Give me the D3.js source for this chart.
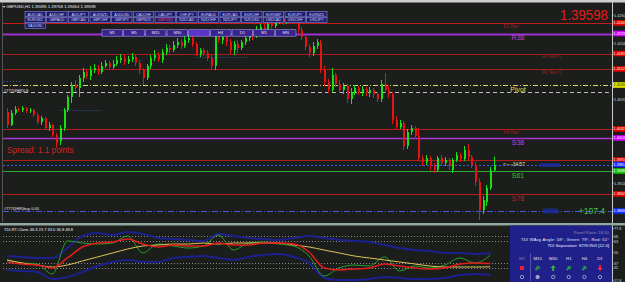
<!DOCTYPE html>
<html>
<head>
<meta charset="utf-8">
<script src="https://cdn.jsdelivr.net/npm/d3@7"></script>
<style>
html, body { margin: 0; padding: 0; background: #1c1e1c; overflow: hidden; }
svg { display: block; font-family: "Liberation Sans", Arial, sans-serif; }
</style>
</head>
<body>
<div id="chart"></div>
<script>
//Chart data: H1 candles (open, high, low, close)
const opens = [1.4066,1.4040,1.4064,1.4072,1.4070,1.4074,1.4068,1.4070,1.4060,1.4046,
  1.4054,1.4034,1.4040,1.4020,1.4008,1.4034,1.4070,1.4096,1.4120,1.4114,
  1.4134,1.4146,1.4138,1.4150,1.4154,1.4146,1.4158,1.4164,1.4156,1.4162,
  1.4170,1.4174,1.4166,1.4172,1.4176,1.4164,1.4150,1.4134,1.4158,1.4174,
  1.4180,1.4170,1.4186,1.4194,1.4190,1.4200,1.4206,1.4198,1.4210,1.4214,
  1.4202,1.4182,1.4190,1.4184,1.4174,1.4158,1.4218,1.4210,1.4216,1.4206,
  1.4190,1.4202,1.4194,1.4206,1.4214,1.4224,1.4218,1.4230,1.4236,1.4232,
  1.4242,1.4238,1.4248,1.4252,1.4246,1.4256,1.4260,1.4246,1.4230,1.4216,
  1.4196,1.4184,1.4198,1.4204,1.4150,1.4126,1.4110,1.4140,1.4122,1.4110,
  1.4118,1.4092,1.4106,1.4114,1.4106,1.4112,1.4104,1.4110,1.4102,1.4092,
  1.4122,1.4110,1.4102,1.4050,1.4036,1.4044,1.3998,1.4026,1.4034,1.4018,
  1.3974,1.3966,1.3974,1.3958,1.3950,1.3974,1.3964,1.3970,1.3950,1.3970,
  1.3980,1.3972,1.3990,1.3976,1.3960,1.3926,1.3870,1.3886,1.3914,1.39495];
const highs = [1.4074,1.4070,1.4078,1.4076,1.4078,1.4076,1.4074,1.4072,1.4064,1.4058,
  1.4056,1.4046,1.4042,1.4024,1.4040,1.4074,1.4100,1.4126,1.4130,1.4140,
  1.4154,1.4150,1.4158,1.4162,1.4160,1.4166,1.4170,1.4168,1.4170,1.4178,
  1.4182,1.4180,1.4178,1.4184,1.4180,1.4170,1.4154,1.4162,1.4180,1.4190,
  1.4186,1.4192,1.4202,1.4200,1.4208,1.4214,1.4212,1.4218,1.4222,1.4218,
  1.4206,1.4194,1.4194,1.4190,1.4180,1.4224,1.4226,1.4224,1.4220,1.4212,
  1.4208,1.4210,1.4210,1.4220,1.4232,1.4230,1.4238,1.4242,1.4244,1.4250,
  1.4248,1.4254,1.4260,1.4258,1.4264,1.4268,1.4266,1.4254,1.4236,1.4222,
  1.4202,1.4206,1.4212,1.4210,1.4158,1.4132,1.4154,1.4144,1.4130,1.4124,
  1.4122,1.4114,1.4120,1.4118,1.4118,1.4116,1.4116,1.4114,1.4106,1.4130,
  1.4144,1.4118,1.4106,1.4058,1.4050,1.4048,1.4032,1.4040,1.4038,1.4034,
  1.3980,1.3980,1.3978,1.3964,1.3978,1.3980,1.3976,1.3974,1.3974,1.3986,
  1.3984,1.3998,1.4002,1.3980,1.3966,1.3934,1.3898,1.3920,1.3956,1.39768];
const lows = [1.4034,1.4038,1.4060,1.4066,1.4066,1.4064,1.4064,1.4056,1.4042,1.4040,
  1.4030,1.4028,1.4016,1.3994,1.4000,1.4028,1.4066,1.4084,1.4106,1.4096,
  1.4126,1.4132,1.4130,1.4144,1.4140,1.4142,1.4154,1.4150,1.4152,1.4158,
  1.4164,1.4160,1.4162,1.4166,1.4158,1.4142,1.4120,1.4130,1.4152,1.4168,
  1.4166,1.4164,1.4180,1.4184,1.4186,1.4194,1.4192,1.4194,1.4204,1.4196,
  1.4178,1.4176,1.4178,1.4168,1.4150,1.4150,1.4204,1.4202,1.4198,1.4182,
  1.4180,1.4184,1.4190,1.4200,1.4208,1.4210,1.4214,1.4224,1.4226,1.4228,
  1.4232,1.4234,1.4242,1.4240,1.4242,1.4250,1.4242,1.4224,1.4210,1.4190,
  1.4176,1.4178,1.4192,1.4144,1.4118,1.4104,1.4106,1.4116,1.4104,1.4102,
  1.4084,1.4082,1.4100,1.4100,1.4098,1.4098,1.4096,1.4094,1.4086,1.4086,
  1.4104,1.4094,1.4042,1.4030,1.4032,1.3990,1.3992,1.4020,1.4012,1.3968,
  1.3958,1.3960,1.3950,1.3944,1.3946,1.3958,1.3958,1.3950,1.3944,1.3966,
  1.3966,1.3968,1.3970,1.3954,1.3918,1.3850,1.3862,1.3878,1.3910,1.39464];
const closes = [1.4040,1.4064,1.4072,1.4070,1.4074,1.4068,1.4070,1.4060,1.4046,1.4054,
  1.4034,1.4040,1.4020,1.4004,1.4034,1.4070,1.4096,1.4120,1.4114,1.4134,
  1.4146,1.4138,1.4150,1.4154,1.4146,1.4158,1.4164,1.4156,1.4162,1.4170,
  1.4174,1.4166,1.4172,1.4176,1.4164,1.4150,1.4134,1.4158,1.4174,1.4180,
  1.4170,1.4186,1.4194,1.4190,1.4200,1.4206,1.4198,1.4210,1.4214,1.4202,
  1.4182,1.4190,1.4184,1.4174,1.4158,1.4218,1.4210,1.4216,1.4206,1.4190,
  1.4202,1.4194,1.4206,1.4214,1.4224,1.4218,1.4230,1.4236,1.4232,1.4242,
  1.4238,1.4248,1.4252,1.4246,1.4256,1.4260,1.4246,1.4230,1.4216,1.4196,
  1.4184,1.4198,1.4206,1.4150,1.4126,1.4110,1.4140,1.4122,1.4110,1.4118,
  1.4092,1.4106,1.4114,1.4106,1.4112,1.4104,1.4110,1.4102,1.4092,1.4122,
  1.4110,1.4102,1.4050,1.4036,1.4044,1.3998,1.4026,1.4034,1.4018,1.3974,
  1.3966,1.3974,1.3958,1.3950,1.3974,1.3964,1.3970,1.3958,1.3970,1.3980,
  1.3972,1.3990,1.3976,1.3960,1.3926,1.3870,1.3890,1.3914,1.3950,1.39598];

//Horizontal levels drawn on the price chart
const levelNames = ["D1 Res", "R38", "R3 Res C", "R2 Res C", "Pivot", "#777(4HR)LS", "H4 Res", "S38", "S50", "34/57", "S61", "S78", "#777(4HR)buy 0.00"];
const levelPrices = [1.4244, 1.4223, 1.4183, 1.4152, 1.4120, 1.4105, 1.4032, 1.4014, 1.3970, 1.3961, 1.3948, 1.3902, 1.3868];

//Short dotted session levels (price, first bar, last bar)
const segPrices = [1.4128, 1.4070, 1.4176];
const segStart = [0, 15, 51];
const segEnd = [3, 24, 63];

//Price axis ticks
const priceTicks = [1.4260, 1.4204, 1.4148, 1.4092, 1.4036, 1.3980, 1.3924, 1.3868];

//Symbol buttons and timeframe buttons
const symbolRow1 = ["AUDCAD","AUDCHF","AUDJPY","AUDNZD","AUDUSD","CADCHF","CADJPY","CHFJPY","EURAUD","EURCAD","EURCHF","EURGBP","EURJPY","EURNZD"];
const symbolRow2 = ["EURUSD","GBPAUD","GBPCAD","GBPCHF","GBPJPY","GBPNZD","GBPUSD","NZDCAD","NZDCHF","NZDJPY","NZDUSD","USDCAD","USDCHF","USDJPY"];
const symbolRow3 = ["XAUUSD"];
const timeframes = ["M1","M5","M15","M30","H1","H4","D1","W1","MN"];

//TDI subwindow, sampled every 4 bars
const subBars = [0,4,8,12,16,20,24,28,32,36,40,44,48,52,56,60,64,68,72,76,80,84,88,92,96,100,104,108,112,116,120,124,128];
const upperBand = [45.5,44.4,43.2,43.2,54.7,68.6,72.0,69.7,73.2,70.9,66.3,65.1,64.0,62.8,70.9,68.6,66.3,65.1,64.0,66.3,68.6,66.3,64.0,62.8,61.7,58.2,54.7,52.4,51.3,49.0,49.0,47.9,48.8];
const lowerBand = [29.4,28.2,27.0,18.9,21.3,27.0,34.0,38.6,40.9,38.6,38.6,43.2,44.4,45.5,43.2,40.9,44.4,46.7,47.9,44.4,37.4,20.1,17.8,17.8,18.9,21.3,20.1,18.9,18.9,20.1,23.6,24.7,23.7];
const rsiLine = [40.9,37.4,36.3,24.7,62.8,60.5,59.3,60.5,68.6,49.0,59.3,57.0,54.7,57.0,69.7,52.4,60.5,61.7,59.3,57.0,45.5,22.4,31.7,35.1,34.0,44.4,28.2,34.0,31.7,35.1,43.2,37.4,46.3];
const signalLine = [38.6,36.3,35.1,31.7,43.2,55.9,60.5,61.7,65.1,59.3,55.9,58.2,57.0,57.0,60.5,58.2,58.2,60.5,60.5,59.3,50.1,31.7,29.4,30.5,31.7,36.3,34.0,31.7,30.5,31.7,36.3,37.4,36.8];
const baseLine = [40.9,37.4,35.1,32.8,35.1,39.8,44.4,49.0,53.6,57.0,58.2,59.3,59.3,60.5,59.3,60.5,60.5,60.5,60.5,58.2,55.9,52.4,49.0,45.5,43.2,40.9,38.6,36.3,34.0,32.8,32.8,32.8,33.0];
const subTicks = [77.8, 68, 63, 50, 37, 32, 17.8];
const subLevels = [68, 63, 37, 32];

//Panel inside the subwindow
const panelTf = ["M5","M15","M30","H1","H4","D1"];
const panelSignal = ["flat","upright","up","upright","upright","down"];
const panelDot = ["open","filled","open","open","open","open"];

//Dimensions
const width = 625;
const height = 282;
const axisX = 612;
const bull = "#17e017", bear = "#e41414";

const svg = d3.select("#chart").append("svg").attr("width", width).attr("height", height);
svg.append("rect").attr("width", width).attr("height", height).attr("fill", "#1c1e1c");

//Scales
const x = d3.scaleLinear().domain([0, opens.length - 1]).range([7, 494]);
const y = d3.scaleLinear().domain([1.3846, 1.4290]).range([222, 0]);
const ySub = d3.scaleLinear().domain([17.8, 77.8]).range([280, 228]);

//Frame bits
svg.append("rect").attr("x", 0).attr("y", 0).attr("width", width).attr("height", 2.5).attr("fill", "#cfcfcf");
svg.append("line").attr("x1", 2.5).attr("x2", 2.5).attr("y1", 3).attr("y2", 222).attr("stroke", "#555");

//Level lines
const levelStyle = {
  "D1 Res":   { c: "#c41c1c", w: 1, dash: null, lc: "#9c2424", fs: 4.5, lx: 511 },
  "R38":      { c: "#9e30d0", w: 2, dash: null, lc: "#c040e6", fs: 7, lx: 518 },
  "R3 Res C": { c: "#a81c1c", w: 1, dash: null, lc: "#a02222", fs: 4.5, lx: 552 },
  "R2 Res C": { c: "#a81c1c", w: 1, dash: null, lc: "#a02222", fs: 4.5, lx: 552 },
  "Pivot":    { c: "#dcd66a", w: 1, dash: "5,2,1,2", lc: "#e0d840", fs: 7, lx: 518 },
  "#777(4HR)LS": { c: "#bdbdbd", w: 1, dash: "4,3", lc: "#e6e6e6", fs: 4, lx: 4, left: true },
  "H4 Res":   { c: "#b01e1e", w: 1, dash: null, lc: "#a02222", fs: 4.5, lx: 511 },
  "S38":      { c: "#aa34d4", w: 1.5, dash: null, lc: "#c040e6", fs: 7, lx: 518 },
  "S50":      { c: "#b01e1e", w: 1, dash: null, lc: null, fs: 0, lx: 0 },
  "34/57":    { c: "#3a5cf0", w: 1, dash: "2,2", lc: "#e6dc90", fs: 5, lx: 503, arrow: true },
  "S61":      { c: "#2ea82e", w: 1, dash: null, lc: "#34c034", fs: 7, lx: 518 },
  "S78":      { c: "#b01e1e", w: 1, dash: null, lc: "#c02424", fs: 7, lx: 518 },
  "#777(4HR)buy 0.00": { c: "#4658d8", w: 1, dash: "6,2,1,2", lc: "#e6e6e6", fs: 4, lx: 4, left: true }
};
const boxColor = {
  "D1 Res": "#e00000", "R38": "#d000ff", "R3 Res C": "#e00000", "R2 Res C": "#e00000", "Pivot": "#e6e600",
  "H4 Res": "#e00000", "S38": "#d000ff", "S50": "#e00000", "34/57": "#1030ff", "S61": "#10c010", "S78": "#e00000",
  "#777(4HR)buy 0.00": "#1030ff"
};

const gLevels = svg.append("g");
levelNames.forEach((name, i) => {
  const s = levelStyle[name];
  const ly = Math.round(y(levelPrices[i])) + 0.5;
  gLevels.append("line").attr("x1", 3).attr("x2", axisX).attr("y1", ly).attr("y2", ly)
    .attr("stroke", s.c).attr("stroke-width", s.w).attr("stroke-dasharray", s.dash);
});

//Short dotted levels
segPrices.forEach((p, i) => {
  const ly = Math.round(y(p)) + 0.5;
  gLevels.append("line").attr("x1", x(segStart[i]) - 3).attr("x2", x(segEnd[i]) + 3).attr("y1", ly).attr("y2", ly)
    .attr("stroke", "#3a5ab0").attr("stroke-dasharray", "1,2");
});

//Candles
const idx = d3.range(opens.length);
const col = i => closes[i] >= opens[i] ? bull : bear;
const gC = svg.append("g");
gC.selectAll("line").data(idx).join("line")
  .attr("x1", i => Math.round(x(i)) + 0.5).attr("x2", i => Math.round(x(i)) + 0.5)
  .attr("y1", i => y(highs[i])).attr("y2", i => y(lows[i]))
  .attr("stroke", col).attr("stroke-width", 1);
gC.selectAll("rect").data(idx).join("rect")
  .attr("x", i => Math.round(x(i)))
  .attr("width", 2)
  .attr("y", i => y(Math.max(opens[i], closes[i])))
  .attr("height", i => Math.max(1, Math.abs(y(opens[i]) - y(closes[i]))))
  .attr("fill", col);

//Level labels
levelNames.forEach((name, i) => {
  const s = levelStyle[name];
  if (!s.lc) return;
  const ly = y(levelPrices[i]);
  let t;
  if (s.left) {
    t = svg.append("text").attr("x", s.lx).attr("y", ly - 0.8).text(name);
  } else if (s.arrow) {
    t = svg.append("text").attr("x", s.lx).attr("y", ly + 1.8).text("<----" + name);
  } else {
    t = svg.append("text").attr("x", s.lx).attr("y", ly + 1 + s.fs * 0.8).attr("text-anchor", "middle").text(name);
  }
  t.attr("fill", s.lc).style("font-size", s.fs + "px");
});

//Right price axis: tick labels that sit under a level box are hidden by it
const boxYs = levelNames.filter(n => boxColor[n]).map(n => y(levelPrices[levelNames.indexOf(n)]));
const freeTicks = priceTicks.filter(t => boxYs.every(b => Math.abs(y(t) - b) > 5));
const axisG = svg.append("g").attr("transform", `translate(${axisX},0)`)
  .call(d3.axisRight(y).tickValues(freeTicks).tickFormat(d3.format(".4f")).tickSize(1.5).tickPadding(0.5));
axisG.select(".domain").remove();
axisG.selectAll("line").attr("stroke", "#c8c8c8");
axisG.selectAll("text").attr("fill", "#d6d6d6").style("font-size", "3.8px").style("font-family", "Liberation Sans, Arial");
svg.append("line").attr("x1", axisX + 0.5).attr("x2", axisX + 0.5).attr("y1", 2).attr("y2", 223).attr("stroke", "#c8c8c8");

//Coloured price boxes on the axis
levelNames.forEach((name, i) => {
  if (!boxColor[name]) return;
  const ly = y(levelPrices[i]);
  svg.append("rect").attr("x", axisX + 1).attr("y", ly - 2.8).attr("width", 13).attr("height", 5.6).attr("fill", boxColor[name]);
  svg.append("text").attr("x", axisX + 1.6).attr("y", ly + 1.4).text(d3.format(".4f")(levelPrices[i]))
    .attr("fill", name === "Pivot" ? "#000" : "#fff").style("font-size", "3.7px");
});

//Blue label boxes near the right
svg.append("rect").attr("x", 540).attr("y", y(levelPrices[9]) - 1.5).attr("width", 20).attr("height", 4).attr("fill", "#1c2a9c").attr("opacity", 0.8);
svg.append("rect").attr("x", 543).attr("y", y(levelPrices[12]) - 2.5).attr("width", 15).attr("height", 5).attr("fill", "#1c2a9c").attr("opacity", 0.8);

//Texts on chart
svg.append("text").attr("x", 605).attr("y", y(levelPrices[12]) + 3).attr("text-anchor", "end")
  .attr("fill", "#44c844").style("font-size", "8.5px").text("+107.4");
svg.append("text").attr("x", 7).attr("y", 153).attr("fill", "#d42222").style("font-size", "8.2px").text("Spread: 1.1 points");
svg.append("text").attr("x", 608).attr("y", 20).attr("text-anchor", "end").attr("fill", "#e81a1a")
  .style("font-size", "15px").attr("textLength", 48).attr("lengthAdjust", "spacingAndGlyphs").text("1.39598");
svg.append("text").attr("x", 3).attr("y", 7.5).attr("fill", "#f0f0f0").style("font-size", "4.2px")
  .text("\u25BE GBPUSD,H1  1.39495 1.39768 1.39464 1.39598");

//Symbol buttons
const bx = d3.scaleBand().domain(d3.range(14)).range([25, 327]).paddingInner(0.06);
[symbolRow1, symbolRow2, symbolRow3].forEach((row, r) => {
  const by = 11.5 + r * 5.8;
  const g = svg.append("g");
  g.selectAll("rect").data(row).join("rect")
    .attr("x", (d, i) => bx(i)).attr("y", by).attr("width", bx.bandwidth()).attr("height", 5.3)
    .attr("fill", "#1d1b6e").attr("stroke", "#8a88dc").attr("stroke-width", 0.6);
  g.selectAll("text").data(row).join("text")
    .attr("x", (d, i) => bx(i) + bx.bandwidth() / 2).attr("y", by + 4).attr("text-anchor", "middle")
    .attr("fill", d => d === "GBPUSD" ? "#ff4060" : "#dcdcff").style("font-size", "3.6px").text(d => d);
});

//Timeframe buttons
const tx = d3.scaleBand().domain(timeframes).range([102, 296]).paddingInner(0.05);
const gTf = svg.append("g");
gTf.selectAll("rect").data(timeframes).join("rect")
  .attr("x", d => tx(d)).attr("y", 29.7).attr("width", tx.bandwidth()).attr("height", 6.5)
  .attr("fill", d => d === "H1" ? "#5a34c6" : "#38248e").attr("stroke", "#a69af0").attr("stroke-width", 0.6);
gTf.selectAll("text").data(timeframes).join("text")
  .attr("x", d => tx(d) + tx.bandwidth() / 2).attr("y", 34.3).attr("text-anchor", "middle")
  .attr("fill", d => d === "H1" ? "#6a44d6" : "#e6e6ff").style("font-size", "4px").text(d => d);

//Separator between windows
svg.append("rect").attr("x", 0).attr("y", 223).attr("width", width).attr("height", 2.5).attr("fill", "#93a8a0");

//TDI subwindow
const gSub = svg.append("g");
subLevels.forEach(v => {
  gSub.append("line").attr("x1", 3).attr("x2", axisX).attr("y1", Math.round(ySub(v)) + 0.5).attr("y2", Math.round(ySub(v)) + 0.5)
    .attr("stroke", "#8a8a8a").attr("stroke-dasharray", "1,2");
});
const subLine = vals => d3.line().x((d, i) => x(subBars[i])).y(d => ySub(d)).curve(d3.curveMonotoneX)(vals);
gSub.append("path").attr("d", subLine(upperBand)).attr("fill", "none").attr("stroke", "#1c2090").attr("stroke-width", 2);
gSub.append("path").attr("d", subLine(lowerBand)).attr("fill", "none").attr("stroke", "#1c2090").attr("stroke-width", 2);
gSub.append("path").attr("d", subLine(rsiLine)).attr("fill", "none").attr("stroke", "#22a02a").attr("stroke-width", 1);
gSub.append("path").attr("d", subLine(baseLine)).attr("fill", "none").attr("stroke", "#dcc452").attr("stroke-width", 1);
gSub.append("path").attr("d", subLine(signalLine)).attr("fill", "none").attr("stroke", "#e41c1c").attr("stroke-width", 1.5);
svg.append("text").attr("x", 4).attr("y", 230.5).attr("fill", "#f0f0f0").style("font-size", "4px")
  .text("TDI-RT-Clone 46.3 23.7 33.0 36.8 48.8");

//Sub axis
const subAxisG = svg.append("g").attr("transform", `translate(${axisX},0)`)
  .call(d3.axisRight(ySub).tickValues(subTicks).tickFormat(d => d % 1 ? d.toFixed(1) : d).tickSize(1.5).tickPadding(0.5));
subAxisG.select(".domain").remove();
subAxisG.selectAll("line").attr("stroke", "#c8c8c8");
subAxisG.selectAll("text").attr("fill", "#d6d6d6").style("font-size", "3.8px");
svg.append("line").attr("x1", axisX + 0.5).attr("x2", axisX + 0.5).attr("y1", 225.5).attr("y2", height).attr("stroke", "#c8c8c8");

//Info panel
const gP = svg.append("g");
gP.append("rect").attr("x", 510).attr("y", 225.5).attr("width", 102).attr("height", 57).attr("fill", "#20208a");
gP.append("text").attr("x", 609).attr("y", 233.5).attr("text-anchor", "end").attr("fill", "#8c8cb4").style("font-size", "4.3px").text("Panel Ratio: 18.00");
gP.append("text").attr("x", 609).attr("y", 241).attr("text-anchor", "end").attr("fill", "#ececff").style("font-size", "4.1px")
  .attr("textLength", 88).text("TDI WAvg Angle: 58\u00B0, Green: 79\u00B0, Red: 51\u00B0");
gP.append("text").attr("x", 609).attr("y", 247).attr("text-anchor", "end").attr("fill", "#ececff").style("font-size", "4.3px")
  .text("TDI Separation: STRONG [12.0]");
gP.append("line").attr("x1", 530.5).attr("x2", 530.5).attr("y1", 253).attr("y2", 281).attr("stroke", "#6e6ed0").attr("stroke-width", 0.6);

const px = d3.scalePoint().domain(panelTf).range([522, 600]);
gP.selectAll("text.tf").data(panelTf).join("text").attr("class", "tf")
  .attr("x", d => px(d)).attr("y", 259.5).attr("text-anchor", "middle")
  .attr("fill", d => d === "M5" ? "#8080a8" : "#e6e6ff").style("font-size", "4.3px").text(d => d);

const arrowPath = "M0,-3 L2.6,0 L1,0 L1,3 L-1,3 L-1,0 L-2.6,0 Z";
const sigRot = { up: 0, upright: 45, down: 180 };
const sigCol = { flat: "#e8203a", up: "#38b048", upright: "#2a9448", down: "#ff2040" };
panelTf.forEach((tf, i) => {
  const cx = px(tf), cy = 268;
  if (panelSignal[i] === "flat") {
    gP.append("rect").attr("x", cx - 2).attr("y", cy - 2).attr("width", 4).attr("height", 4).attr("fill", sigCol.flat);
  } else {
    gP.append("path").attr("d", arrowPath).attr("transform", `translate(${cx},${cy}) rotate(${sigRot[panelSignal[i]]})`)
      .attr("fill", sigCol[panelSignal[i]]);
  }
  gP.append("circle").attr("cx", cx).attr("cy", 277).attr("r", 1.7)
    .attr("fill", panelDot[i] === "filled" ? "#9a9ab0" : "none")
    .attr("stroke", "#c4c4d8").attr("stroke-width", 0.7);
});
</script>
</body>
</html>
